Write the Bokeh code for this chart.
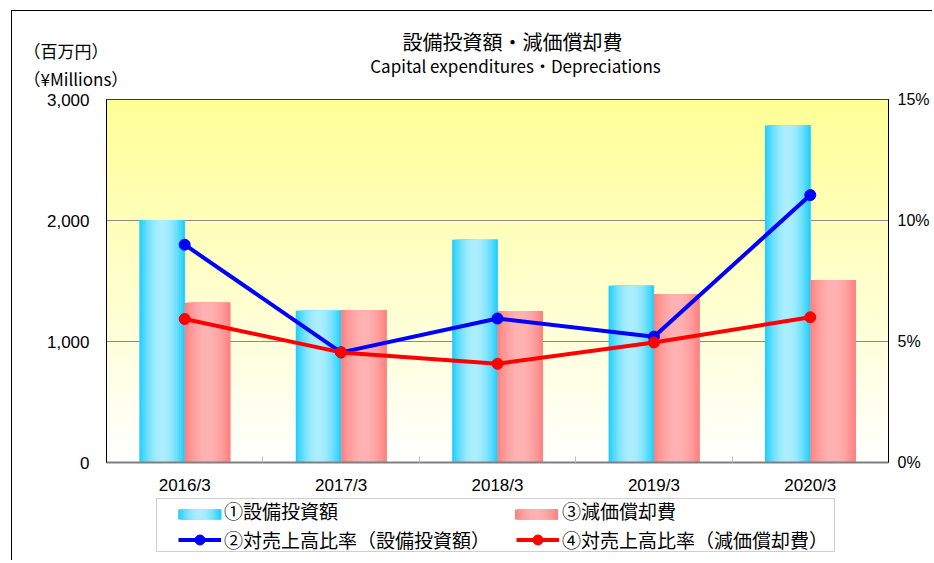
import numpy as np
from bokeh.plotting import figure
from bokeh.layouts import column, row
from bokeh.models import (Range1d, LinearAxis, FixedTicker, NumeralTickFormatter,
                          PrintfTickFormatter, CustomJSTickFormatter, Legend, LegendItem, Label)
from bokeh.embed import file_html
from bokeh.resources import INLINE

# ---------------- data ----------------
categories = ["2016/3", "2017/3", "2018/3", "2019/3", "2020/3"]
capex = [2005, 1255, 1840, 1460, 2785]            # ①設備投資額 (百万円)
depreciation = [1320, 1260, 1253, 1393, 1508]     # ③減価償却費 (百万円)
capex_ratio = [9.0, 4.55, 5.95, 5.2, 11.05]       # ②対売上高比率 (%)
depr_ratio = [5.93, 4.55, 4.08, 4.96, 6.0]        # ④対売上高比率 (%)
left_ticks = [0, 1000, 2000, 3000]
right_ticks = [0, 5, 10, 15]
series_names = ["①設備投資額", "②対売上高比率（設備投資額）",
                "③減価償却費", "④対売上高比率（減価償却費）"]
title_ja = "設備投資額・減価償却費"
title_en = "Capital expenditures・Depreciations"
unit_ja = "（百万円）"
unit_en = "（¥Millions）"

JP = "Noto Sans CJK JP"
LAT = "Liberation Sans"

n = len(categories)
YMAX = 3000
PMAX = 15
W = 920
BLUE_EDGE, BLUE_MID = (24, 204, 252), (172, 238, 255)
RED_EDGE, RED_MID = (255, 126, 126), (255, 178, 178)
NS = 24


def mix(c1, c2, t):
    return "#%02x%02x%02x" % tuple(int(round(a + (b - a) * t)) for a, b in zip(c1, c2))


def shade(k):
    u = (k + 0.5) / NS
    return np.sin(np.pi * u) ** 0.9


def blank_fig(w, h, xr=None):
    f = figure(width=w, height=h, x_range=xr if xr is not None else Range1d(0, w),
               y_range=Range1d(0, h),
               x_axis_location=None, y_axis_location=None,
               output_backend="svg", toolbar_location=None, min_border=0)
    f.grid.visible = False
    f.outline_line_color = None
    f.background_fill_color = "white"
    f.border_fill_color = "white"
    return f


# ---------------- header (units | titles) ----------------
TOP = 11          # page y of the header's top edge
HH = 79
UW = 130
ufig = blank_fig(UW, HH)
ufig.add_layout(Label(x=11, y=HH - (50 - TOP), text=unit_ja, text_align="left",
                      text_baseline="middle", text_font=JP, text_font_size="17px",
                      text_color="black"))
ufig.add_layout(Label(x=11, y=HH - (77.5 - TOP), text=unit_en, text_align="left",
                      text_baseline="middle", text_font=JP, text_font_size="17px",
                      text_color="black"))
tfig = blank_fig(W - UW, HH)
tfig.add_layout(Label(x=513 - 13 - UW, y=HH - (41 - TOP), text=title_ja, text_align="center",
                      text_baseline="middle", text_font=JP, text_font_size="20px",
                      text_color="black"))
tfig.add_layout(Label(x=516 - 13 - UW, y=HH - (65 - TOP), text=title_en, text_align="center",
                      text_baseline="middle", text_font=JP, text_font_size="17px",
                      text_color="black"))

# ---------------- main chart ----------------
p = figure(width=W, height=407, x_range=Range1d(0, n), y_range=Range1d(0, YMAX),
           output_backend="svg", toolbar_location=None,
           min_border_left=94, min_border_right=41, min_border_top=9, min_border_bottom=34)
p.background_fill_color = "white"
p.border_fill_color = "white"
p.outline_line_color = "black"
p.outline_line_width = 1

rows = 256
grad = np.zeros((rows, 1), dtype=np.uint32)
view = grad.view(dtype=np.uint8).reshape((rows, 1, 4))
for i in range(rows):
    t = i / (rows - 1)
    view[i, 0, 0] = 255
    view[i, 0, 1] = 255
    view[i, 0, 2] = int(round(255 - t * (255 - 0x96)))
    view[i, 0, 3] = 255
bg = p.image_rgba(image=[grad], x=0, y=0, dw=n, dh=YMAX)
bg.level = "image"

p.xgrid.visible = False
p.ygrid[0].ticker = FixedTicker(ticks=left_ticks)
p.ygrid[0].grid_line_color = "#8A8A8A"
p.ygrid[0].grid_line_width = 1

xa = p.xaxis[0]
xa.ticker = FixedTicker(ticks=[i + 0.5 for i in range(n)], minor_ticks=list(range(1, n)))
xa.formatter = CustomJSTickFormatter(
    args=dict(cats=categories),
    code="const i = Math.floor(tick); return (i >= 0 && i < cats.length) ? cats[i] : '';")
xa.major_tick_in = 0
xa.major_tick_out = 0
xa.minor_tick_in = 6
xa.minor_tick_out = 0
xa.minor_tick_line_color = "#C0C0C0"
xa.axis_line_color = "#808080"
xa.axis_line_width = 2
xa.major_label_text_font = LAT
xa.major_label_text_font_size = "17px"
xa.major_label_text_color = "black"
xa.major_label_standoff = 13

ya = p.yaxis[0]
ya.ticker = FixedTicker(ticks=left_ticks)
ya.formatter = NumeralTickFormatter(format="0,0")
ya.major_tick_in = 0
ya.major_tick_out = 0
ya.minor_tick_in = 0
ya.minor_tick_out = 0
ya.axis_line_color = "black"
ya.axis_line_width = 1
ya.major_label_text_font = LAT
ya.major_label_text_font_size = "17px"
ya.major_label_text_color = "black"
ya.major_label_standoff = 17

p.extra_y_ranges = {"pct": Range1d(0, PMAX)}
ra = LinearAxis(y_range_name="pct", ticker=FixedTicker(ticks=right_ticks),
                formatter=PrintfTickFormatter(format="%d%%"))
ra.major_tick_in = 0
ra.major_tick_out = 0
ra.minor_tick_in = 0
ra.minor_tick_out = 0
ra.axis_line_color = "black"
ra.axis_line_width = 1
ra.major_label_text_font = LAT
ra.major_label_text_font_size = "16px"
ra.major_label_text_color = "black"
ra.major_label_standoff = 9
p.add_layout(ra, "right")

centers = np.arange(n) + 0.5
BW = 0.29


def gradient_bar(values, offset, edge, mid):
    vals = np.array(values, dtype=float)
    for k in range(NS):
        col = mix(edge, mid, shade(k))
        left = centers + offset + BW * k / NS
        right = centers + offset + BW
        p.quad(left=left, right=right, bottom=np.zeros(n), top=vals,
               fill_color=col, line_color=None)


gradient_bar(capex, -BW, BLUE_EDGE, BLUE_MID)
gradient_bar(depreciation, 0.0, RED_EDGE, RED_MID)

p.line(centers, capex_ratio, y_range_name="pct", line_color="#0000FF", line_width=4)
p.scatter(centers, capex_ratio, y_range_name="pct", size=11,
          fill_color="#0000FF", line_color="#0000FF")
p.line(centers, depr_ratio, y_range_name="pct", line_color="#FF0000", line_width=4)
p.scatter(centers, depr_ratio, y_range_name="pct", size=11,
          fill_color="#FF0000", line_color="#FF0000")

# ---------------- legend strip (frame aligned with chart frame: page x 107..892) ----------------
LH = 63
FL, FR = 107, 892
lf = blank_fig(W, LH, xr=Range1d(FL, FR))
GW = 43
sw_y0, sw_y1 = 41, 51
for sx0, edge, mid in [(179, BLUE_EDGE, BLUE_MID), (517, RED_EDGE, RED_MID)]:
    for k in range(NS):
        lf.quad(left=[sx0 + GW * k / NS], right=[sx0 + GW], bottom=[sw_y0], top=[sw_y1],
                fill_color=mix(edge, mid, shade(k)), line_color=None)

off_x = [-9000, -8990]
off_y = [0, 0]
blank = lf.scatter(x=off_x, y=off_y, alpha=0)
sw_none = lf.quad(left=off_x[:1], right=off_x[1:], top=[1], bottom=[0], fill_alpha=0, line_alpha=0)
bl = lf.line(x=off_x, y=off_y, line_color="#0000FF", line_width=4)
bs = lf.scatter(x=off_x, y=off_y, size=11, fill_color="#0000FF", line_color="#0000FF")
rl = lf.line(x=off_x, y=off_y, line_color="#FF0000", line_width=4)
rs = lf.scatter(x=off_x, y=off_y, size=11, fill_color="#FF0000", line_color="#FF0000")

box = Legend(items=[LegendItem(label=" ", renderers=[blank])], location=(157 - FL, 8),
             glyph_width=0, glyph_height=52, label_width=677, label_height=52,
             label_standoff=0, padding=0, spacing=0, margin=0,
             border_line_color="#A0A0A0", border_line_width=1,
             background_fill_alpha=0, label_text_font_size="1px")
lf.add_layout(box)

common = dict(orientation="horizontal", padding=0, spacing=0, margin=0,
              border_line_alpha=0, background_fill_alpha=0,
              label_text_font=JP, label_text_font_size="19px", label_text_color="black",
              glyph_width=GW, label_standoff=3, label_width=292)

leg1 = Legend(items=[LegendItem(label=series_names[0], renderers=[sw_none]),
                     LegendItem(label=series_names[2], renderers=[sw_none])],
              location=(179 - FL, 36), glyph_height=20, label_height=20, **common)
lf.add_layout(leg1)

leg2 = Legend(items=[LegendItem(label=series_names[1], renderers=[bl, bs]),
                     LegendItem(label=series_names[3], renderers=[rl, rs])],
              location=(179 - FL, 7.5), glyph_height=25, label_height=25, **common)
lf.add_layout(leg2)

layout = column(row(ufig, tfig, spacing=0), p, lf, spacing=0)
layout.margin = (10, 0, 0, 11)
layout.styles = {"border-left": "1px solid #000", "border-top": "1px solid #000"}

open("out.html", "w").write(file_html(layout, INLINE))
